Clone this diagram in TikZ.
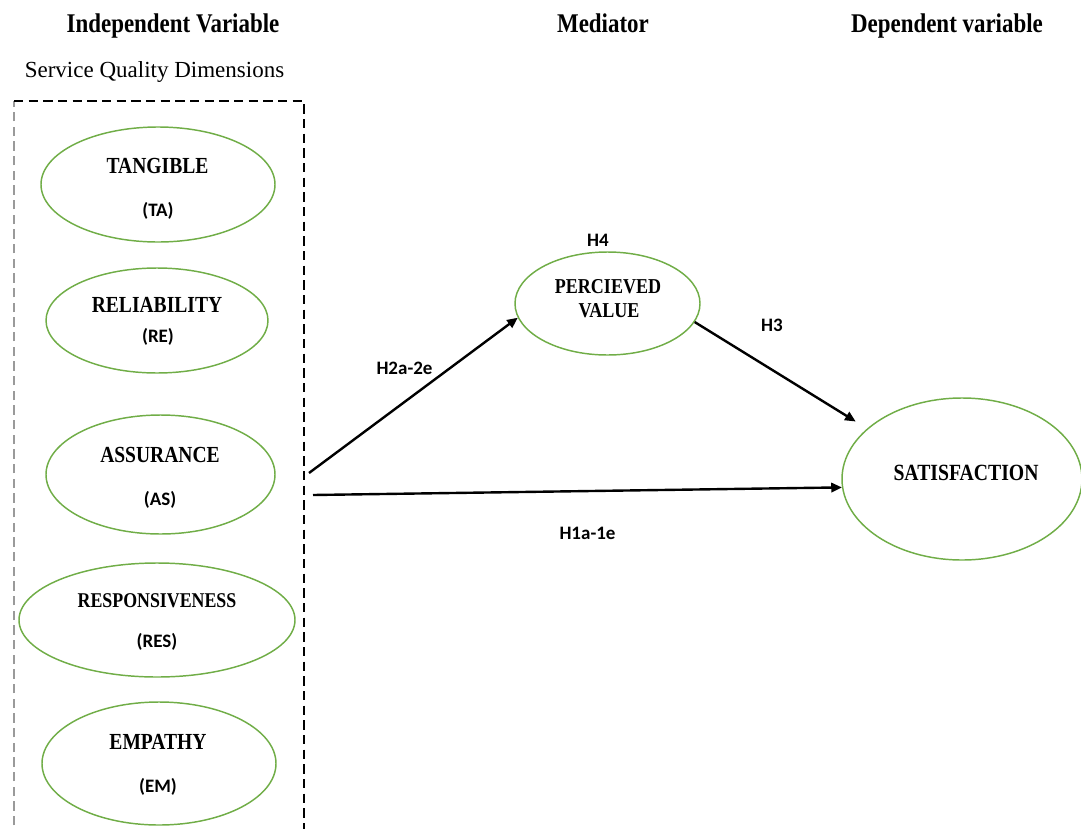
\documentclass[tikz,border=0pt]{standalone}
\usepackage{fontspec}
\setmainfont{Liberation Serif}
\newfontfamily\bfn[FakeStretch=0.85]{Liberation Serif}
\newfontfamily\clb{Carlito}
\usetikzlibrary{shapes.geometric,arrows.meta}
\definecolor{grn}{HTML}{70AD47}
\definecolor{gry}{HTML}{9A9A9A}
\begin{document}
\begin{tikzpicture}[x=0.75pt,y=-0.75pt,
  ell/.style={ellipse, draw=grn, line width=1.1pt, inner sep=0pt},
  hd/.style={font=\bfn\bfseries\fontsize{20.25}{24}\selectfont, inner sep=0pt, anchor=base},
  nm/.style={font=\bfn\bfseries\fontsize{17.25}{20}\selectfont, inner sep=0pt, anchor=base},
  ab/.style={font=\clb\bfseries\fontsize{14.25}{17}\selectfont, inner sep=0pt, anchor=base},
  dbox/.style={line width=1pt, dash pattern=on 7pt off 4pt},
  arr/.style={line width=1.8pt, -{Triangle[length=8pt,width=7pt]}}
]
\useasboundingbox (0,0) rectangle (1081,828);

% headings
\node[hd] (hiv) at (173,32) {Independent Variable};
\node[hd] (hmed) at (603,32) {Mediator};
\node[hd] (hdv) at (947,32) {Dependent variable};
\node[font=\fontsize{17.25}{20}\selectfont, inner sep=0pt, anchor=base] (sqd) at (154.5,77) {Service Quality Dimensions};

% dashed box
\draw[dbox, gry] (14,840) -- (14,101);
\draw[dbox, black] (14,101) -- (304,101) -- (304,840);

% ellipses
\node[ell, minimum width=175.5pt, minimum height=86.25pt] (ta) at (158,184.5) {};
\node[ell, minimum width=166.5pt, minimum height=78.75pt] (re) at (157,320.5) {};
\node[ell, minimum width=171.75pt, minimum height=89.25pt] (as) at (160.5,474.5) {};
\node[ell, minimum width=207pt, minimum height=85.5pt] (res) at (157,620) {};
\node[ell, minimum width=175.5pt, minimum height=92.25pt] (em) at (159,763.5) {};
\node[ell, minimum width=138.75pt, minimum height=77.25pt] (pv) at (607.5,303.5) {};
\node[ell, minimum width=180pt, minimum height=121.5pt] (sat) at (962,479) {};

% ellipse texts
\node[nm] (tat) at (157.5,173) {TANGIBLE};
\node[ab] (taa) at (158,216) {(TA)};
\node[nm] (ret) at (157,312) {RELIABILITY};
\node[ab] (rea) at (158,342) {(RE)};
\node[nm] (ast) at (160,462) {ASSURANCE};
\node[ab] (asa) at (160,505) {(AS)};
\node[nm, font=\bfn\bfseries\fontsize{15.75}{18}\selectfont] (rest) at (157,607) {RESPONSIVENESS};
\node[ab] (resa) at (157,647) {(RES)};
\node[nm] (emt) at (158,749) {EMPATHY};
\node[ab] (ema) at (158,792) {(EM)};
\node[nm, font=\bfn\bfseries\fontsize{15.9}{18}\selectfont] (pvt1) at (608,293) {PERCIEVED};
\node[nm, font=\bfn\bfseries\fontsize{15.9}{18}\selectfont] (pvt2) at (609,317) {VALUE};
\node[nm, font=\bfn\bfseries\fontsize{17.4}{20}\selectfont] (satt) at (966,480) {SATISFACTION};

% arrows
\coordinate (c1) at (309,473);
\coordinate (c2) at (313,495);
\draw[arr] (c1) -- (pv.189);
\draw[arr] (c2) -- (sat.184);
\draw[arr, shorten >=10pt] (pv.-12) -- (sat.152);

% arrow labels
\node[ab] (h4) at (598,246) {H4};
\node[ab] (h2) at (404.5,374) {H2a-2e};
\node[ab] (h3) at (772,331) {H3};
\node[ab] (h1) at (587.5,539) {H1a-1e};
\end{tikzpicture}
\end{document}
